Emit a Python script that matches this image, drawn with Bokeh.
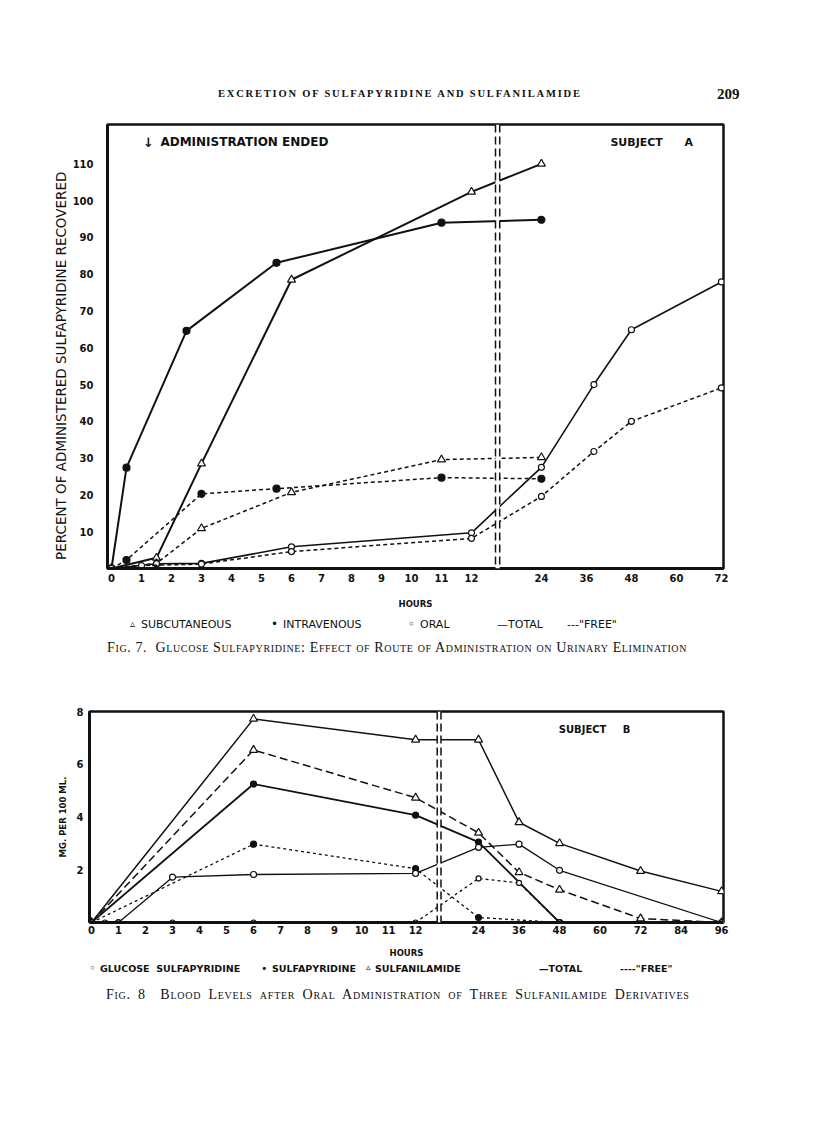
import numpy as np
from bokeh.plotting import figure
from bokeh.models import Range1d, FixedTicker, Span, Label, Div, Spacer, BoxAnnotation
from bokeh.layouts import column, row
from bokeh.embed import file_html
from bokeh.resources import INLINE

# ---------------- Fig. 7 data: hours vs percent recovered ----------------
sub_total_h = [0, 1.5, 3, 6, 12, 24]
sub_total_v = [0, 2.9, 28.5, 78.5, 102.4, 110]
sub_free_h = [0, 1.5, 3, 6, 11, 24]
sub_free_v = [0, 1.4, 10.9, 20.7, 29.6, 30.2]
iv_total_h = [0, 0.5, 2.5, 5.5, 11, 24]
iv_total_v = [0, 27.4, 64.6, 83.1, 94.0, 94.8]
iv_free_h = [0, 0.5, 3, 5.5, 11, 24]
iv_free_v = [0, 2.3, 20.3, 21.7, 24.7, 24.4]
oral_total_h = [0, 1.5, 3, 6, 12, 24, 38, 48, 72]
oral_total_v = [0, 1.3, 1.4, 5.9, 9.7, 27.5, 50, 64.9, 77.9]
oral_free_h = [0, 1, 3, 6, 12, 24, 38, 48, 72]
oral_free_v = [0, 0.8, 1.2, 4.6, 8.2, 19.6, 31.8, 40, 49.1]

fig7_x_ticks = [0, 1, 2, 3, 4, 5, 6, 7, 8, 9, 10, 11, 12, 24, 36, 48, 60, 72]
fig7_y_ticks = [10, 20, 30, 40, 50, 60, 70, 80, 90, 100, 110]

# ---------------- Fig. 8 data: hours vs mg per 100 ml ----------------
sa_total_h = [0, 6, 12, 24, 36, 48, 72, 96]
sa_total_v = [0, 7.72, 6.93, 6.93, 3.8, 3.0, 1.95, 1.18]
sa_free_h = [0, 6, 12, 24, 36, 48, 72, 96]
sa_free_v = [0, 6.54, 4.73, 3.4, 1.9, 1.24, 0.15, 0.0]
sp_total_h = [0, 6, 12, 24, 48]
sp_total_v = [0, 5.25, 4.07, 3.05, 0.0]
sp_free_h = [0, 6, 12, 24, 48]
sp_free_v = [0, 2.97, 2.04, 0.19, 0.0]
gs_total_h = [0, 1, 3, 6, 12, 24, 36, 48, 96]
gs_total_v = [0, 0.0, 1.72, 1.82, 1.86, 2.85, 2.97, 1.98, 0.0]
gs_free_h = [0, 0.5, 1, 3, 6, 12, 24, 36, 48, 96]
gs_free_v = [0, 0, 0, 0, 0, 0, 1.67, 1.5, 0.0, 0.0]

fig8_x_ticks = [0, 1, 2, 3, 4, 5, 6, 7, 8, 9, 10, 11, 12, 24, 36, 48, 60, 72, 84, 96]
fig8_y_ticks = [2, 4, 6, 8]

# ---------------- broken hour axis: 0-12 linear, then compressed ----------------
AXIS_H = [0, 12, 24, 96]
AXIS_P = [0, 12, 14.33, 23.33]
BREAK_LINES = [12.8, 12.94]


def hpos(h):
    return [float(round(v, 6)) for v in np.interp(h, AXIS_H, AXIS_P)]


SANS = "DejaVu Sans"
INK = "#111111"
NBSP = "\u00a0"


def style_axes(p, xt, yt):
    xpos = hpos(xt)
    p.xaxis.ticker = FixedTicker(ticks=xpos)
    p.xaxis.major_label_overrides = {k: str(h) for k, h in zip(xpos, xt)}
    p.yaxis.ticker = FixedTicker(ticks=yt)
    for ax in (p.xaxis[0], p.yaxis[0]):
        ax.axis_line_width = 3
        ax.axis_line_color = INK
        ax.major_tick_line_color = None
        ax.minor_tick_line_color = None
        ax.major_label_text_font = SANS
        ax.major_label_text_font_style = "bold"
        ax.major_label_text_font_size = "10px"
        ax.major_label_text_color = INK
        ax.axis_label_text_font = SANS
        ax.axis_label_text_font_style = "normal"
        ax.axis_label_text_color = INK
    p.grid.visible = False
    p.outline_line_color = INK
    p.outline_line_width = 2.5
    p.outline_line_alpha = 1


def breaks(p):
    p.add_layout(BoxAnnotation(left=BREAK_LINES[0], right=BREAK_LINES[1], fill_color="white",
                               fill_alpha=1, line_color=None))
    for loc in BREAK_LINES:
        p.add_layout(Span(location=loc, dimension="height", line_color=INK,
                          line_width=1.5, line_dash="8 4"))


def series(p, h, v, marker, dash, lw, msize):
    x = hpos(h)
    p.line(x, v, line_color=INK, line_width=lw, line_dash=dash)
    filled = marker == "dot"
    p.scatter(x, v, marker="triangle" if marker == "triangle" else "circle",
              size=msize, line_color=INK, line_width=1.2,
              fill_color=INK if filled else "white")


def lab(p, x, y, text, size, style="bold"):
    p.add_layout(Label(x=x, y=y, text=text, text_font=SANS, text_font_size=size,
                       text_font_style=style, text_color=INK, text_baseline="middle",
                       text_align="left"))


def span(left, top, text, css):
    return (f'<span style="position:absolute;left:{left}px;top:{top}px;line-height:1;'
            f'white-space:pre;color:{INK};{css}">{text}</span>')


def text_block(height, spans):
    html = f'<div style="position:relative;width:816px;height:{height}px;">' + "".join(spans) + "</div>"
    return Div(text=html, width=816, height=height, margin=(0, 0, 0, 0))


SANS_CSS = "font-family:'DejaVu Sans';"
SERIF_CSS = "font-family:'Liberation Serif';"
LEG7 = SANS_CSS + "font-size:11px;"
LEG8 = SANS_CSS + "font-size:9.5px;font-weight:bold;"

# ======================= page header =======================
header = text_block(110, [
    span(218, 89, "EXCRETION OF SULFAPYRIDINE AND SULFANILAMIDE",
         SERIF_CSS + "font-size:10.5px;font-weight:bold;letter-spacing:1.8px;"),
    span(717, 87, "209", SERIF_CSS + "font-size:15px;font-weight:bold;"),
])

# ======================= Figure 7 =======================
p1 = figure(width=798, height=505, x_range=Range1d(-0.133, 20.4), y_range=Range1d(0, 120.7),
            output_backend="svg", toolbar_location=None,
            min_border_left=89, min_border_right=93, min_border_top=14, min_border_bottom=47)
style_axes(p1, fig7_x_ticks, fig7_y_ticks)
p1.yaxis.axis_label = "PERCENT OF ADMINISTERED SULFAPYRIDINE RECOVERED" + NBSP * 9
p1.yaxis.axis_label_text_font_size = "13.5px"
p1.yaxis.axis_label_standoff = 1
p1.yaxis.major_label_standoff = 8
p1.xaxis.axis_label = "HOURS"
p1.xaxis.axis_label_text_font_size = "8.5px"
p1.xaxis.axis_label_text_font_style = "bold"
p1.xaxis.axis_label_standoff = 14
p1.xaxis.major_label_standoff = -1

series(p1, sub_total_h, sub_total_v, "triangle", "solid", 2, 8)
series(p1, sub_free_h, sub_free_v, "triangle", "4 3", 1.5, 8)
series(p1, iv_total_h, iv_total_v, "dot", "solid", 2, 7)
series(p1, iv_free_h, iv_free_v, "dot", "4 3", 1.5, 7)
series(p1, oral_total_h, oral_total_v, "open", "solid", 1.6, 6)
series(p1, oral_free_h, oral_free_v, "open", "4 3", 1.5, 6)
breaks(p1)

lab(p1, 1.05, 115.7, "↓", "13px")
lab(p1, 1.63, 116.0, "ADMINISTRATION ENDED", "12px")
lab(p1, 16.63, 115.7, "SUBJECT", "11px")
lab(p1, 19.1, 115.7, "A", "11px")

legend7 = text_block(85, [
    span(130, 4, "▵", SANS_CSS + "font-size:10px;"),
    span(141, 4, "SUBCUTANEOUS", LEG7),
    span(271, 3, "•", SANS_CSS + "font-size:12px;"),
    span(283, 4, "INTRAVENOUS", LEG7),
    span(408, 3, "◦", SANS_CSS + "font-size:12px;"),
    span(420, 4, "ORAL", LEG7),
    span(497, 4, "—TOTAL", LEG7),
    span(567, 4, "---\"FREE\"", LEG7),
    span(107, 26, "Fig. 7.  Glucose Sulfapyridine: Effect of Route of Administration on Urinary Elimination",
         SERIF_CSS + "font-size:14px;font-variant:small-caps;letter-spacing:0.63px;"),
])

# ======================= Figure 8 =======================
p2 = figure(width=816, height=262, x_range=Range1d(-0.074, 23.4), y_range=Range1d(0, 8),
            output_backend="svg", toolbar_location=None,
            min_border_left=89, min_border_right=93, min_border_top=11, min_border_bottom=40)
style_axes(p2, fig8_x_ticks, fig8_y_ticks)
p2.yaxis.axis_label = "MG. PER 100 ML."
p2.yaxis.axis_label_text_font_size = "8.5px"
p2.yaxis.axis_label_text_font_style = "bold"
p2.yaxis.axis_label_standoff = 6
p2.yaxis.major_label_standoff = 0
p2.xaxis.axis_label = "HOURS"
p2.xaxis.axis_label_text_font_size = "8.5px"
p2.xaxis.axis_label_text_font_style = "bold"
p2.xaxis.axis_label_standoff = 11
p2.xaxis.major_label_standoff = -3

series(p2, sa_total_h, sa_total_v, "triangle", "solid", 1.5, 8)
series(p2, sa_free_h, sa_free_v, "triangle", "8 4", 1.5, 8)
series(p2, sp_total_h, sp_total_v, "dot", "solid", 1.8, 6)
series(p2, sp_free_h, sp_free_v, "dot", "3 3", 1.3, 6)
series(p2, gs_total_h, gs_total_v, "open", "solid", 1.3, 6)
series(p2, gs_free_h, gs_free_v, "open", "3 3", 1.3, 5)
breaks(p2)

lab(p2, 17.3, 7.32, "SUBJECT", "10px")
lab(p2, 19.67, 7.32, "B", "10px")

legend8 = text_block(58, [
    span(89, 1, "◦", SANS_CSS + "font-size:11px;"),
    span(100, 2, "GLUCOSE  SULFAPYRIDINE", LEG8),
    span(261, 1, "•", SANS_CSS + "font-size:11px;"),
    span(272, 2, "SULFAPYRIDINE", LEG8),
    span(366, 1, "▵", SANS_CSS + "font-size:9px;"),
    span(375, 2, "SULFANILAMIDE", LEG8),
    span(539, 2, "—TOTAL", LEG8),
    span(620, 2, "----\"FREE\"", LEG8),
    span(106, 26, "Fig. 8  Blood Levels after Oral Administration of Three Sulfanilamide Derivatives",
         SERIF_CSS + "font-size:14px;font-variant:small-caps;letter-spacing:0.75px;word-spacing:3px;"),
])

layout = column(header, row(Spacer(width=18, height=505), p1), legend7, p2, legend8, spacing=0)
open("out.html", "w").write(file_html(layout, INLINE))
